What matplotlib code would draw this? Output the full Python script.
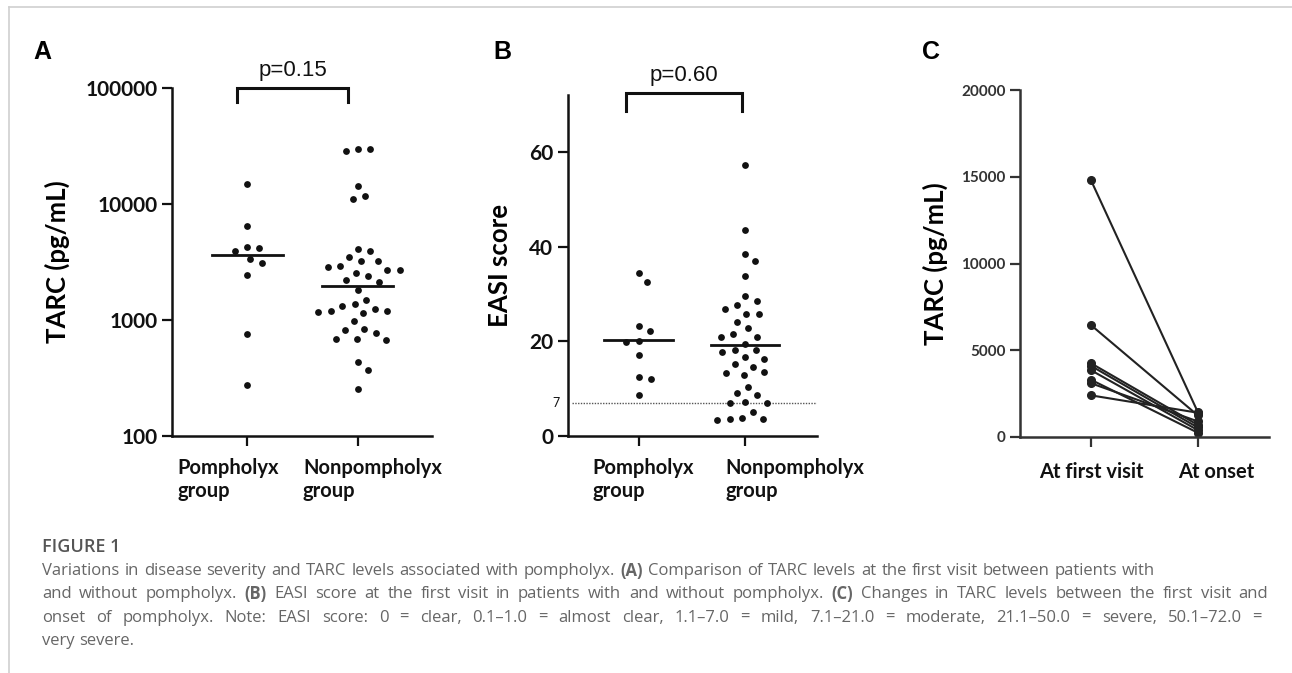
import matplotlib
matplotlib.use('Agg')
import matplotlib.pyplot as plt
import matplotlib.transforms as mtransforms
import numpy as np
from matplotlib.lines import Line2D

# ---- data ----
groups = ['Pompholyx\ngroup', 'Nonpompholyx\ngroup']

pomph_tarc = [14960, 6500, 4280, 4180, 3900, 3360, 3100, 2440, 752, 277]
nonpomph_tarc = [30000, 30000, 28500, 14400, 11800, 11000, 4120, 3900, 3470, 3200,
                 3200, 2900, 2860, 2720, 2720, 2540, 2410, 2230, 2110, 1800,
                 1500, 1380, 1310, 1250, 1200, 1200, 1165, 1150, 973, 841,
                 825, 772, 690, 690, 676, 431, 368, 254]

pomph_easi = [34.4, 32.5, 23.2, 22.2, 20.1, 19.9, 17.1, 12.4, 12.1, 8.6]
nonpomph_easi = [57.2, 43.4, 38.5, 36.9, 33.8, 29.6, 28.6, 27.6, 26.8, 25.8,
                 25.7, 24.0, 22.7, 21.5, 20.9, 20.8, 19.5, 18.2, 18.1, 17.8,
                 16.7, 16.2, 15.2, 14.6, 13.5, 13.3, 12.8, 10.3, 9.1, 8.6,
                 7.1, 6.9, 6.9, 5.1, 3.9, 3.5, 3.5, 3.4]

visits = ['At first visit', 'At onset']
first_visit = [14800, 6450, 4250, 4100, 3850, 3300, 3100, 2400]
at_onset = [1450, 1250, 700, 550, 400, 250, 900, 1400]

p_tarc = 'p=0.15'
p_easi = 'p=0.60'
easi_cut = 7

caption = [
    [('Variations in disease severity and TARC levels associated with pompholyx. ', False),
     ('(A)', True),
     (' Comparison of TARC levels at the first visit between patients with', False)],
    [('and without pompholyx. ', False), ('(B)', True),
     (' EASI score at the first visit in patients with and without pompholyx. ', False),
     ('(C)', True),
     (' Changes in TARC levels between the first visit and', False)],
    [('onset of pompholyx. Note: EASI score: 0 = clear, 0.1\u20131.0 = almost clear, 1.1\u20137.0 = mild, '
      '7.1\u201321.0 = moderate, 21.1\u201350.0 = severe, 50.1\u201372.0 =', False)],
    [('very severe.', False)],
]
# right edge (px) of each caption line in the original layout, None = ragged
caption_right = [1155, 1268, 1262, None]

LAB = 'Lato'
INK = '#111111'


def swarm_x(ax, xc, values, d_px):
    # simple beeswarm: place each point as close to the centre as it can go
    pts = ax.transData.transform(np.column_stack([np.full(len(values), xc), values]))
    ys = pts[:, 1]
    x0 = pts[0, 0]
    px_per_unit = ax.transData.transform((xc + 1, values[0]))[0] - x0
    placed = []
    xs = np.zeros(len(values))
    for i in np.argsort(-ys):
        cands = [0.0]
        for (px, py) in placed:
            dy = ys[i] - py
            if abs(dy) < d_px:
                dx = np.sqrt(d_px ** 2 - dy ** 2)
                cands += [px + dx, px - dx]
        cands.sort(key=abs)
        for c in cands:
            if all((c - px) ** 2 + (ys[i] - py) ** 2 >= d_px ** 2 - 1e-6 for px, py in placed):
                xs[i] = c
                placed.append((c, ys[i]))
                break
    return xc + xs / px_per_unit


def style_axes(ax, color=INK, tick_size=15, tick_color=INK):
    for s in ['top', 'right']:
        ax.spines[s].set_visible(False)
    for s in ['left', 'bottom']:
        ax.spines[s].set_linewidth(1.8)
        ax.spines[s].set_color(color)
    ax.tick_params(length=7, width=1.6, color=color, labelcolor=tick_color)
    ax.minorticks_off()
    for lab in ax.get_yticklabels():
        lab.set_fontfamily(LAB)
        lab.set_fontweight('bold')
        lab.set_fontsize(tick_size)


def shift_xlabels(ax, offsets_px, ha):
    # nudge category labels sideways the way the original layout has them
    for lab, dx in zip(ax.get_xticklabels(), offsets_px):
        lab.set_horizontalalignment(ha)
        lab.set_transform(lab.get_transform() +
                          mtransforms.ScaledTranslation(dx / 100, 0, fig.dpi_scale_trans))


def bracket(ax, x0, x1, ytop, ybot, label):
    ax.plot([x0, x0, x1, x1], [ybot, ytop, ytop, ybot], color=INK, lw=2.2, clip_on=False,
            solid_joinstyle='miter')
    ax.annotate(label, ((x0 + x1) / 2, ytop), xytext=(0, 5), textcoords='offset points',
                ha='center', va='bottom', fontsize=16, family='Liberation Sans', color=INK,
                annotation_clip=False)


fig = plt.figure(figsize=(12.92, 6.73), dpi=100)
W, H = 1292, 673


def axes_px(x0, x1, ytop, ybot):
    return fig.add_axes([x0 / W, 1 - ybot / H, (x1 - x0) / W, (ybot - ytop) / H])


xlab_kw = dict(fontfamily=LAB, fontweight='bold', fontsize=14.5, linespacing=1.2,
               multialignment='left')

# ---- panel A ----
axA = axes_px(172, 432, 88, 436)
axA.set_yscale('log')
axA.set_ylim(100, 100000)
axA.set_xlim(-0.676, 1.667)
axA.set_yticks([100, 1000, 10000, 100000])
axA.set_yticklabels(['100', '1000', '10000', '100000'])
axA.set_xticks([0, 1])
axA.set_xticklabels(groups, **xlab_kw)
axA.tick_params(axis='x', pad=9)
style_axes(axA)
shift_xlabels(axA, [-70, -55], 'left')
axA.set_ylabel('TARC (pg/mL)', fontfamily=LAB, fontweight='bold', fontsize=18.5, labelpad=11)
for i, vals in enumerate([pomph_tarc, nonpomph_tarc]):
    xs = swarm_x(axA, i, vals, 12.5)
    axA.scatter(xs, vals, s=24, color=INK, zorder=3, linewidths=0)
    med = np.median(vals)
    axA.plot([i - 0.32, i + 0.32], [med, med], color=INK, lw=2, zorder=4)
bracket(axA, -0.09, 0.91, 100000, 76000, p_tarc)

# ---- panel B ----
axB = axes_px(568, 817, 95, 436)
axB.set_ylim(0, 72)
axB.set_xlim(-0.662, 1.672)
axB.set_yticks([0, 20, 40, 60])
axB.set_xticks([0, 1])
axB.set_xticklabels(groups, **xlab_kw)
axB.tick_params(axis='x', pad=9)
style_axes(axB)
shift_xlabels(axB, [-46, -20], 'left')
axB.set_ylabel('EASI score', fontfamily=LAB, fontweight='bold', fontsize=18.5, labelpad=12)
axB.axhline(easi_cut, xmin=0.015, xmax=1, color='#555555', lw=1, ls=(0, (1, 1)), zorder=1)
axB.annotate(str(easi_cut), (0, easi_cut), xycoords=('axes fraction', 'data'),
             xytext=(-6, 0), textcoords='offset points', ha='right', va='center',
             fontsize=9, family=LAB, color=INK)
for i, vals in enumerate([pomph_easi, nonpomph_easi]):
    xs = swarm_x(axB, i, vals, 12.5)
    axB.scatter(xs, vals, s=24, color=INK, zorder=3, linewidths=0)
    mean = np.mean(vals)
    axB.plot([i - 0.32, i + 0.32], [mean, mean], color=INK, lw=2, zorder=4)
bracket(axB, -0.12, 0.97, 72.5, 68.6, p_easi)

# ---- panel C ----
GR = '#333333'
axC = axes_px(1020, 1269, 90, 437)
axC.set_ylim(0, 20000)
axC.set_xlim(-0.665, 1.668)
axC.set_yticks([0, 5000, 10000, 15000, 20000])
axC.set_xticks([0, 1])
axC.set_xticklabels(visits, fontfamily=LAB, fontweight='bold', fontsize=14.5)
axC.tick_params(axis='x', pad=11)
style_axes(axC, color=GR, tick_size=11, tick_color=GR)
axC.tick_params(axis='x', labelcolor=INK)
shift_xlabels(axC, [0, 19], 'center')
axC.set_ylabel('TARC (pg/mL)', fontfamily=LAB, fontweight='bold', fontsize=18.5, labelpad=9)
for a, b in zip(first_visit, at_onset):
    axC.plot([0, 1], [a, b], color='#222222', lw=1.5, marker='o', markersize=5.5, clip_on=False)

# ---- panel letters ----
for lbl, x in [('A', 33), ('B', 493), ('C', 922)]:
    fig.text(x / W, 1 - 52 / H, lbl, fontsize=18, fontweight='bold', family='Liberation Sans',
             va='center', ha='left', color='black')

# ---- frame lines ----
fig.add_artist(Line2D([9 / W, 1], [1 - 7 / H, 1 - 7 / H], color='#d0d0d0', lw=1.2))
fig.add_artist(Line2D([9 / W, 9 / W], [0, 1 - 7 / H], color='#d0d0d0', lw=1.2))

# ---- caption ----
CAP = '#666666'
CAP_KW = dict(fontsize=12, family='Open Sans', color=CAP, va='center')
fig.text(42 / W, 1 - 547 / H, 'FIGURE 1', fontsize=13, family='Open Sans', fontweight='semibold',
         color='#555555', va='center')
r = fig.canvas.get_renderer()


def text_w(txt, bold=False):
    t = fig.text(0, 0, txt, fontweight='bold' if bold else 'normal', **CAP_KW)
    w = t.get_window_extent(renderer=r).width
    t.remove()
    return w


space_w = text_w('a a') - text_w('aa')
for k, parts in enumerate(caption):
    words = [(w, b) for txt, b in parts for w in txt.split()]
    widths = [text_w(w, b) for w, b in words]
    natural = sum(widths) + space_w * (len(words) - 1)
    gap = space_w
    if caption_right[k] is not None and len(words) > 1:
        gap += (caption_right[k] - 42 - natural) / (len(words) - 1)
    x = 42.0
    y = 1 - (571 + 23.3 * k) / H
    for (w, b), wd in zip(words, widths):
        fig.text(x / W, y, w, fontweight='bold' if b else 'normal', **CAP_KW)
        x += wd + gap

fig.savefig('out.png', dpi=100)
